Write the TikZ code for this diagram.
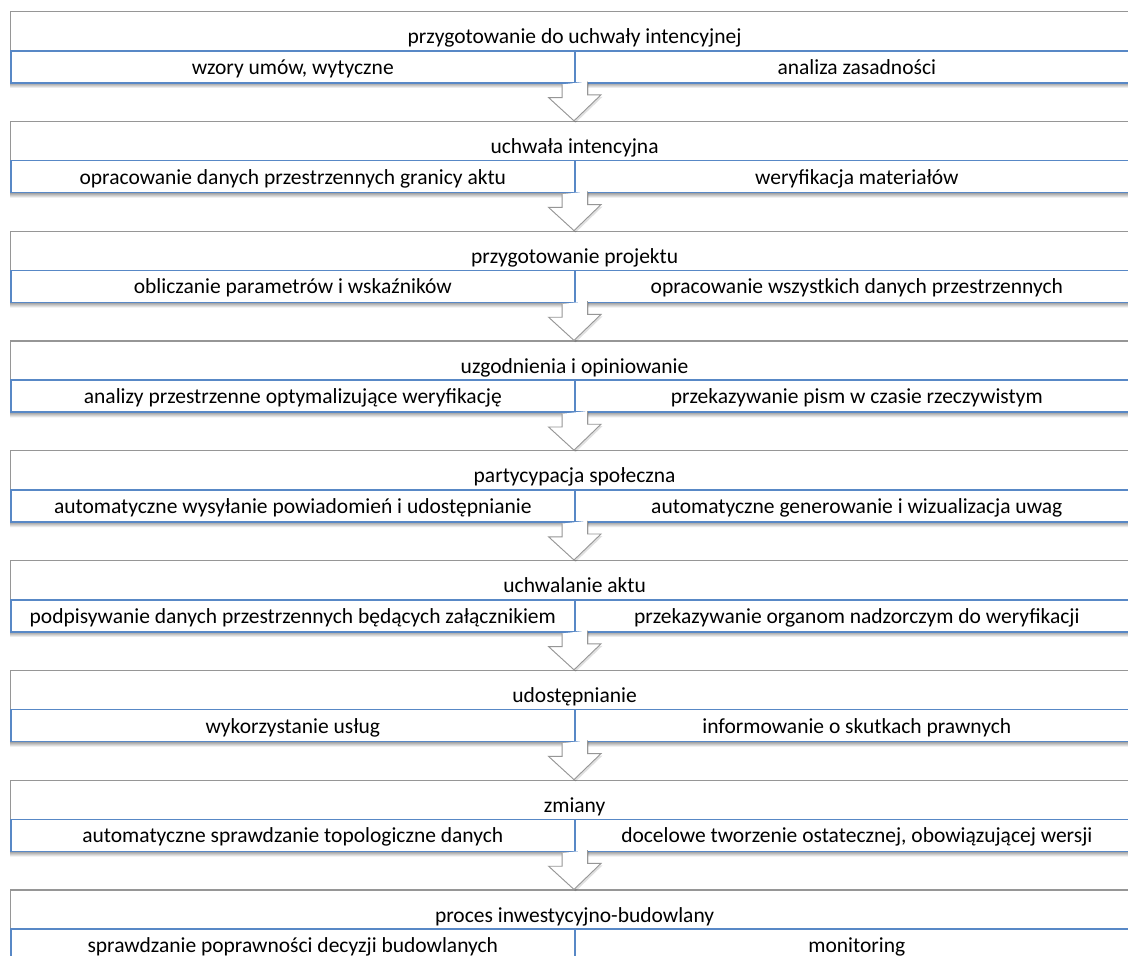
\documentclass[tikz,border=0pt]{standalone}
\usepackage{fontspec}
\setmainfont{Carlito}
\usetikzlibrary{calc}
\definecolor{bluel}{RGB}{88,136,198}
\definecolor{grayl}{RGB}{150,150,150}
\tikzset{
  lbl/.style={font=\fontsize{21.5}{25}\selectfont, text=black},
  titlebox/.style={lbl, draw=grayl, line width=1.2pt, fill=white, minimum width=1128pt,
    minimum height=39pt, inner sep=0pt, anchor=north west, text height=25pt, text depth=0pt},
  halfbox/.style={lbl, draw=bluel, line width=1.6pt, fill=white, minimum width=564pt,
    minimum height=32pt, inner sep=0pt, anchor=north west, text height=15pt, text depth=0pt},
  barshadow/.style={top color=black!45, bottom color=white},
  blockarrow/.style={draw=grayl, fill=white, line width=0.9pt, line join=miter},
  arrowshadow/.style={fill=black, opacity=0.12},
}
\begin{document}
\begin{tikzpicture}[x=1pt,y=-1pt]
\clip (0,0) rectangle (1128,956);
\fill[white] (0,0) rectangle (1128,956);
\foreach \i/\t/\l/\r in {
  1/{przygotowanie do uchwały intencyjnej}/{wzory umów, wytyczne}/{analiza zasadności},
  2/{uchwała intencyjna}/{opracowanie danych przestrzennych granicy aktu}/{weryfikacja materiałów},
  3/{przygotowanie projektu}/{obliczanie parametrów i wskaźników}/{opracowanie wszystkich danych przestrzennych},
  4/{uzgodnienia i opiniowanie}/{analizy przestrzenne optymalizujące weryfikację}/{przekazywanie pism w czasie rzeczywistym},
  5/{partycypacja społeczna}/{automatyczne wysyłanie powiadomień i udostępnianie}/{automatyczne generowanie i wizualizacja uwag},
  6/{uchwalanie aktu}/{podpisywanie danych przestrzennych będących załącznikiem}/{przekazywanie organom nadzorczym do weryfikacji},
  7/{udostępnianie}/{wykorzystanie usług}/{informowanie o skutkach prawnych},
  8/{zmiany}/{automatyczne sprawdzanie topologiczne danych}/{docelowe tworzenie ostatecznej, obowiązującej wersji},
  9/{proces inwestycyjno-budowlany}/{sprawdzanie poprawności decyzji budowlanych}/{monitoring}}{
  \pgfmathsetmacro\yy{11+109.8*(\i-1)}
  \shade[barshadow] (10,\yy+71) rectangle (1138,\yy+77);
  \node[titlebox] (t\i) at (10,\yy) {\t};
  \node[halfbox] (l\i) at (10,\yy+39) {\l};
  \node[halfbox] (r\i) at (574,\yy+39) {\r};
}
\foreach \i [evaluate=\i as \j using int(\i+1)] in {1,...,8}{
  \fill[arrowshadow] ($(l\i.south east)+(-12,2)$) -- ++(0,14) -- ++(-13.5,0)
    -- ($(t\j.north west)+(565.5,2)$) -- ++(27,-26) -- ++(-13.5,0) -- ++(0,-14) -- cycle;
  \draw[blockarrow] ($(l\i.south east)+(-13.5,0.8)$) -- ++(0,13.2) -- ++(-13.5,0)
    -- ($(t\j.north west)+(564,0)$) -- ++(27,-26) -- ++(-13.5,0) -- ++(0,-13.2);
}
\end{tikzpicture}
\end{document}
